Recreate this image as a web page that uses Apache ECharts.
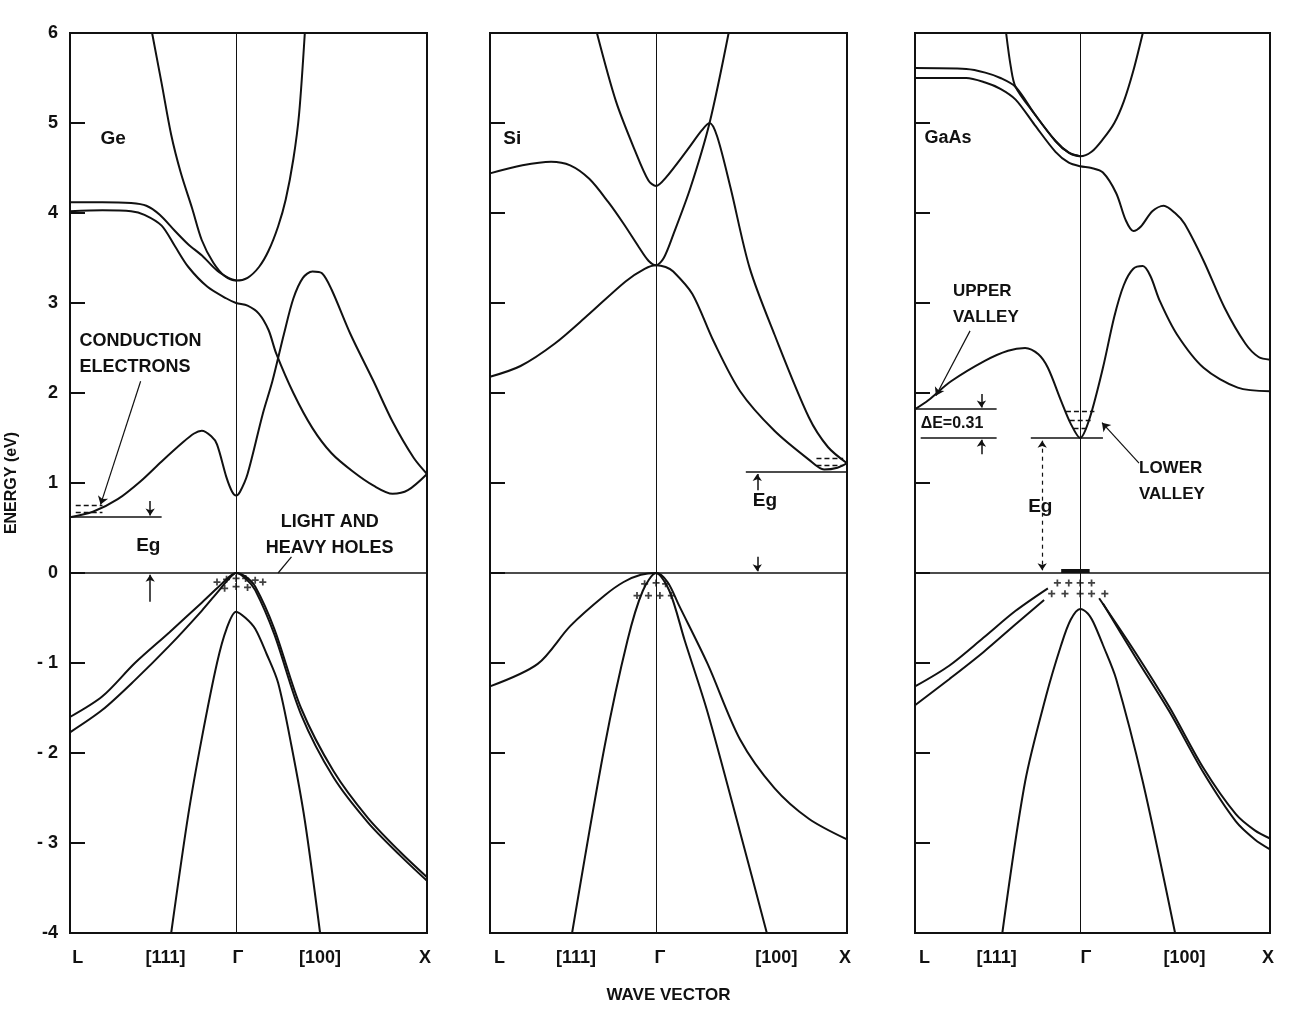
<!DOCTYPE html>
<html><head><meta charset="utf-8">
<script src="https://cdn.jsdelivr.net/npm/echarts@6/dist/echarts.min.js"></script>
<style>html,body{margin:0;padding:0;background:#fff}#c{width:1301px;height:1009px}</style>
</head><body><div id="c"></div>
<script>
// ---------- axis / tick data ----------
const kMin = -0.87, kMax = 1;          // L ... Γ ... X (wave vector, Γ = 0)
const yTicks = [-4,-3,-2,-1,0,1,2,3,4,5,6];
const yTickLabels = ['-4','- 3','- 2','- 1','0','1','2','3','4','5','6'];
const kSymbols = ['L','[111]','Γ','[100]','X'];
const geSymbolPos = [-0.83,-0.37,0.01,0.44,0.99];
const siSymbolPos = [-0.82,-0.42,0.02,0.63,0.99];
const gaSymbolPos = [-0.82,-0.44,0.03,0.55,0.99];
const panelNames = ['Ge','Si','GaAs'];

// ---------- Ge bands [k, E(eV)] ----------
const geCond1 = [[-0.87,0.62],[-0.75,0.68],[-0.62,0.82],[-0.5,1.02],[-0.39,1.24],[-0.28,1.45],[-0.22,1.55],[-0.18,1.58],[-0.13,1.52],[-0.1,1.43],[-0.05,1.06],[-0.02,0.9],[0,0.86],[0.02,0.9],[0.06,1.1],[0.14,1.77],[0.19,2.13],[0.25,2.65],[0.3,3.05],[0.35,3.28],[0.4,3.35],[0.45,3.33],[0.5,3.15],[0.6,2.65],[0.72,2.13],[0.82,1.68],[0.93,1.28],[1.0,1.1]];
const geCond2 = [[-0.87,4.02],[-0.7,4.03],[-0.55,4.02],[-0.48,3.98],[-0.39,3.86],[-0.32,3.63],[-0.25,3.4],[-0.15,3.18],[-0.05,3.05],[0,3.0],[0.06,2.97],[0.12,2.88],[0.17,2.7],[0.21,2.44],[0.3,2.0],[0.4,1.61],[0.5,1.33],[0.61,1.13],[0.72,0.97],[0.82,0.88],[0.9,0.92],[1.0,1.1]];
const geCond3 = [[-0.87,4.12],[-0.7,4.12],[-0.55,4.11],[-0.47,4.08],[-0.4,3.98],[-0.32,3.8],[-0.25,3.65],[-0.18,3.53],[-0.1,3.36],[-0.04,3.28],[0,3.25]];
const geCond4 = [[-0.44,6],[-0.39,5.44],[-0.34,4.87],[-0.29,4.45],[-0.23,4.05],[-0.18,3.7],[-0.12,3.45],[-0.06,3.3],[0,3.25],[0.06,3.28],[0.12,3.4],[0.17,3.58],[0.22,3.85],[0.26,4.15],[0.3,4.6],[0.33,5.1],[0.36,6]];
const geVal1 = [[-0.87,-1.6],[-0.7,-1.37],[-0.53,-1.0],[-0.35,-0.66],[-0.18,-0.33],[-0.1,-0.17],[-0.04,-0.05],[0,0],[0.05,-0.04],[0.1,-0.15],[0.2,-0.62],[0.34,-1.5],[0.51,-2.2],[0.69,-2.72],[0.86,-3.1],[1.0,-3.38]];
const geVal2 = [[-0.87,-1.77],[-0.7,-1.52],[-0.53,-1.19],[-0.35,-0.81],[-0.18,-0.42],[-0.1,-0.22],[-0.04,-0.07],[0,0],[0.05,-0.06],[0.1,-0.19],[0.2,-0.68],[0.34,-1.57],[0.51,-2.27],[0.69,-2.77],[0.86,-3.14],[1.0,-3.42]];
const geSplit = [[-0.34,-4],[-0.25,-2.68],[-0.18,-1.84],[-0.1,-1.0],[-0.05,-0.62],[0,-0.43],[0.05,-0.5],[0.1,-0.62],[0.16,-0.9],[0.22,-1.22],[0.29,-1.92],[0.36,-2.75],[0.44,-4]];

// ---------- Si bands ----------
const siCond1 = [[-0.31,6],[-0.21,5.24],[-0.11,4.69],[-0.04,4.36],[0,4.3],[0.05,4.39],[0.16,4.69],[0.24,4.92],[0.28,5.0],[0.32,4.85],[0.39,4.28],[0.49,3.39],[0.62,2.65],[0.8,1.73],[0.9,1.4],[1.0,1.22]];
const siCond2 = [[-0.87,4.44],[-0.7,4.53],[-0.55,4.57],[-0.45,4.53],[-0.35,4.38],[-0.25,4.12],[-0.17,3.88],[-0.09,3.62],[-0.04,3.47],[0,3.42],[0.04,3.5],[0.09,3.76],[0.18,4.28],[0.28,5.0],[0.38,6]];
const siCond3 = [[-0.87,2.18],[-0.71,2.3],[-0.53,2.55],[-0.36,2.86],[-0.16,3.24],[-0.06,3.38],[0,3.42],[0.05,3.4],[0.09,3.35],[0.19,3.1],[0.3,2.58],[0.44,2.02],[0.62,1.58],[0.8,1.26],[0.88,1.15],[0.95,1.17],[1.0,1.22]];
const siVal1 = [[-0.87,-1.26],[-0.62,-1.01],[-0.45,-0.59],[-0.27,-0.25],[-0.17,-0.1],[-0.08,-0.02],[0,0],[0.06,-0.1],[0.12,-0.36],[0.27,-1.01],[0.44,-1.85],[0.62,-2.39],[0.8,-2.73],[1.0,-2.96]];
const siVal2 = [[-0.44,-4],[-0.27,-1.93],[-0.15,-0.75],[-0.07,-0.2],[0,0],[0.07,-0.2],[0.15,-0.75],[0.27,-1.55],[0.44,-2.88],[0.58,-4]];

// ---------- GaAs bands ----------
const gaCond1 = [[-0.87,1.82],[-0.8,1.92],[-0.68,2.13],[-0.5,2.36],[-0.38,2.47],[-0.29,2.5],[-0.22,2.43],[-0.17,2.28],[-0.1,1.91],[-0.05,1.66],[0,1.5],[0.05,1.72],[0.12,2.28],[0.18,2.85],[0.23,3.2],[0.28,3.38],[0.33,3.41],[0.37,3.3],[0.42,3.02],[0.51,2.65],[0.65,2.28],[0.83,2.06],[1.0,2.02]];
const gaCond2 = [[-0.87,5.5],[-0.6,5.5],[-0.5,5.45],[-0.42,5.38],[-0.34,5.26],[-0.24,4.98],[-0.13,4.68],[-0.06,4.56],[0,4.52],[0.06,4.5],[0.12,4.45],[0.19,4.22],[0.24,3.92],[0.28,3.8],[0.32,3.85],[0.38,4.02],[0.44,4.08],[0.5,4.0],[0.55,3.88],[0.65,3.47],[0.76,2.95],[0.87,2.55],[0.94,2.4],[1.0,2.37]];
const gaCond3 = [[-0.87,5.61],[-0.6,5.6],[-0.5,5.56],[-0.42,5.5],[-0.34,5.4],[-0.24,5.1],[-0.13,4.8],[-0.06,4.67],[0,4.63]];
const gaCond4 = [[-0.39,6],[-0.365,5.62],[-0.34,5.4],[-0.24,5.1],[-0.13,4.8],[-0.06,4.67],[0,4.63],[0.06,4.68],[0.12,4.82],[0.18,5.0],[0.23,5.24],[0.28,5.58],[0.33,6]];
const gaVal1 = [[-0.87,-1.26],[-0.69,-1.03],[-0.51,-0.72],[-0.34,-0.42],[-0.17,-0.17]];
const gaVal2 = [[-0.87,-1.47],[-0.69,-1.18],[-0.51,-0.88],[-0.34,-0.57],[-0.19,-0.3]];
const gaVal3 = [[0.1,-0.28],[0.29,-0.88],[0.47,-1.49],[0.65,-2.17],[0.82,-2.68],[0.92,-2.86],[1.0,-2.95]];
const gaVal4 = [[0.12,-0.34],[0.29,-0.93],[0.47,-1.54],[0.65,-2.22],[0.82,-2.76],[0.92,-2.96],[1.0,-3.07]];
const gaSplit = [[-0.41,-4],[-0.29,-2.32],[-0.18,-1.37],[-0.1,-0.8],[-0.05,-0.52],[0,-0.4],[0.04,-0.45],[0.07,-0.55],[0.12,-0.8],[0.19,-1.18],[0.33,-2.32],[0.5,-4]];

// ---------- carriers (holes) ----------
const geHoles = [[-0.1,-0.1],[-0.05,-0.07],[0,-0.06],[0.05,-0.06],[0.1,-0.08],[0.14,-0.1],[-0.06,-0.17],[0,-0.15],[0.06,-0.16]];
const siHoles = [[-0.06,-0.12],[0,-0.11],[0.05,-0.12],[-0.1,-0.25],[-0.04,-0.25],[0.02,-0.25],[0.08,-0.25]];
const gaHoles = [[-0.12,-0.11],[-0.06,-0.11],[0,-0.11],[0.06,-0.11],[-0.15,-0.23],[-0.08,-0.23],[0,-0.23],[0.06,-0.23],[0.13,-0.23]];

const panelBands = [
  [geCond1,geCond2,geCond3,geCond4,geVal1,geVal2,geSplit],
  [siCond1,siCond2,siCond3,siVal1,siVal2],
  [gaCond1,gaCond2,gaCond3,gaCond4,gaVal1,gaVal2,gaVal3,gaVal4,gaSplit]
];
const panelHoles = [geHoles, siHoles, gaHoles];
const symbolPos = [geSymbolPos, siSymbolPos, gaSymbolPos];

// ---------- layout ----------
const INK = '#111';
const FONT = "'Liberation Sans', Arial, sans-serif";
const gridLefts = [70, 490, 915];
const gridW = [357, 357, 355];

const grids = gridLefts.map((l,i)=>({left:l, top:33, width:gridW[i], height:900, show:true, borderColor:INK, borderWidth:2, backgroundColor:'transparent'}));

const xAxes = [0,1,2].map(i=>({
  type:'value', gridIndex:i, min:kMin, max:kMax,
  axisLine:{show:true, onZero:false, lineStyle:{color:INK, width:2}},
  axisTick:{show:false}, splitLine:{show:false},
  axisLabel:{show:true, customValues:symbolPos[i], margin:16, color:INK, fontSize:18, fontFamily:FONT, fontWeight:'bold',
    formatter:(v)=>{ const j = symbolPos[i].findIndex(p=>Math.abs(p-v)<1e-6); return j>=0 ? kSymbols[j] : ''; }},
  name: i===1 ? 'WAVE VECTOR' : '', nameLocation:'middle', nameGap:54,
  nameTextStyle:{color:INK, fontSize:17, fontFamily:FONT, fontWeight:'bold'}
}));

const yAxes = [0,1,2].map(i=>({
  type:'value', gridIndex:i, min:-4, max:6, interval:1,
  axisLine:{show:true, onZero:false, lineStyle:{color:INK, width:2}},
  axisTick:{show:true, inside:true, length:15, lineStyle:{color:INK, width:2}},
  splitLine:{show:false},
  axisLabel:{show:i===0, margin:12, color:INK, fontSize:18, fontFamily:FONT, fontWeight:'bold',
    formatter:(v)=>{ const j = yTicks.indexOf(v); return j>=0 ? yTickLabels[j] : ''; }},
  name: i===0 ? 'ENERGY (eV)' : '', nameLocation:'middle', nameGap:50,
  nameTextStyle:{color:INK, fontSize:16, fontFamily:FONT, fontWeight:'bold'}
}));

const series = [];
panelBands.forEach((bands,i)=>{
  bands.forEach(b=>series.push({type:'line', xAxisIndex:i, yAxisIndex:i, data:b, showSymbol:false, smooth:0.3,
    lineStyle:{color:INK, width:2}, silent:true, z:3}));
  series.push({type:'scatter', xAxisIndex:i, yAxisIndex:i, data:panelHoles[i], symbol:'path://M3,0H5V3H8V5H5V8H3V5H0V3H3Z', symbolSize:7,
    itemStyle:{color:INK}, silent:true, z:4});
});

// reference lines and annotations
function seg(a,b,opt){ opt=opt||{}; const ls=Object.assign({color:INK, width:1.5, type:'solid'}, opt.ls||{});
  return [{coord:a, symbol:opt.s0||'none', symbolSize:opt.ss||9, lineStyle:ls},{coord:b, symbol:opt.s1||'none', symbolSize:opt.ss||9, lineStyle:ls}]; }
const dash = {ls:{type:[5,3], width:1.3}};
const annoLines = [
  [ // Ge
    seg([-0.87,0.62],[-0.39,0.62]),
    seg([-0.84,0.68],[-0.7,0.68],dash), seg([-0.84,0.75],[-0.7,0.75],dash),
    seg([-0.45,0.8],[-0.45,0.64],{s1:'arrow', ss:7}),
    seg([-0.45,-0.32],[-0.45,-0.02],{s1:'arrow', ss:7}),
    seg([-0.5,2.13],[-0.71,0.76],{s1:'arrow', ss:8, ls:{width:1.2}}),
    seg([0.29,0.18],[0.22,0.0],{ls:{width:1.2}})
  ],
  [ // Si
    seg([0.47,1.12],[1.0,1.12]),
    seg([0.84,1.2],[0.98,1.2],dash), seg([0.84,1.27],[0.98,1.27],dash),
    seg([0.53,0.92],[0.53,1.1],{s1:'arrow', ss:7}),
    seg([0.53,0.18],[0.53,0.02],{s1:'arrow', ss:7})
  ],
  [ // GaAs
    seg([-0.87,1.82],[-0.44,1.82]),
    seg([-0.84,1.5],[-0.44,1.5]),
    seg([-0.26,1.5],[0.12,1.5]),
    seg([-0.52,1.99],[-0.52,1.84],{s1:'arrow', ss:7}),
    seg([-0.52,1.32],[-0.52,1.48],{s1:'arrow', ss:7}),
    seg([-0.2,1.47],[-0.2,0.03],{s0:'arrow', s1:'arrow', ss:7, ls:{type:[4,4], width:1.2}}),
    seg([-0.58,2.69],[-0.76,1.97],{s1:'arrow', ss:8, ls:{width:1.2}}),
    seg([0.31,1.22],[0.115,1.67],{s1:'arrow', ss:8, ls:{width:1.2}}),
    seg([-0.075,1.8],[0.075,1.8],dash), seg([-0.055,1.7],[0.055,1.7],dash), seg([-0.035,1.61],[0.035,1.61],dash),
    seg([-0.1,0.02],[0.05,0.02],{ls:{width:4}})
  ]
];
[0,1,2].forEach(i=>{
  series.push({type:'line', xAxisIndex:i, yAxisIndex:i, data:[], silent:true, z:2,
    markLine:{silent:true, symbol:'none', animation:false, label:{show:false},
      data:[{xAxis:0, lineStyle:{color:INK, width:1, type:'solid'}},{yAxis:0, lineStyle:{color:INK, width:1.6, type:'solid'}}].concat(annoLines[i])}});
});

// text annotations: [k, E, text, anchor('left'|'center'), fontSize]
const annoTexts = [
  [ [-0.71,4.83,'Ge','left',19], [-0.82,2.43,'CONDUCTION\nELECTRONS','left',18],
    [0.49,0.42,'LIGHT AND\nHEAVY HOLES','center',18], [-0.46,0.3,'Eg','center',19] ],
  [ [-0.8,4.83,'Si','left',19], [0.57,0.8,'Eg','center',19] ],
  [ [-0.82,4.83,'GaAs','left',18], [-0.67,2.99,'UPPER\nVALLEY','left',17],
    [-0.84,1.66,'ΔE=0.31','left',16], [0.31,1.02,'LOWER\nVALLEY','left',17],
    [-0.21,0.74,'Eg','center',19] ]
];

const chart = echarts.init(document.getElementById('c'), null, {renderer:'canvas'});
chart.setOption({backgroundColor:'#fff', animation:false, grid:grids, xAxis:xAxes, yAxis:yAxes, series});

const graphics = [];
annoTexts.forEach((list,i)=>list.forEach(t=>{
  const p = chart.convertToPixel({xAxisIndex:i, yAxisIndex:i}, [t[0], t[1]]);
  graphics.push({type:'text', x:p[0], y:p[1], silent:true, z:10,
    style:{text:t[2], fill:INK, font:'bold '+t[4]+'px '+FONT, align:t[3], verticalAlign:'middle', lineHeight:26}});
}));
chart.setOption({graphic:graphics});
</script></body></html>
